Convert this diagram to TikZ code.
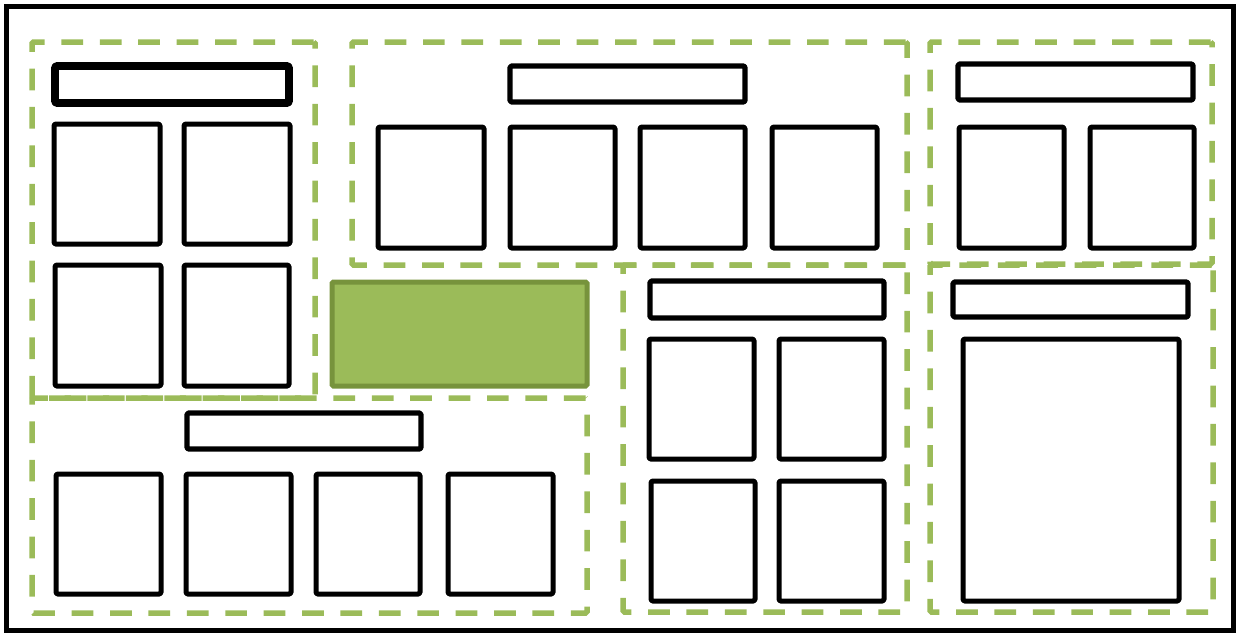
\documentclass[tikz,border=0pt]{standalone}
\usetikzlibrary{fit}
\definecolor{lgreen}{HTML}{9BBB59}
\definecolor{dgreen}{HTML}{77933C}
\tikzset{
  rb/.style={inner sep=0pt, outer sep=0pt, rounded corners=1.5pt},
  group/.style={rb, draw=lgreen, line width=5.5pt, dash pattern=on 21.7pt off 16.7pt},
  card/.style={rb, draw=black, line width=5pt, line join=round},
  headbox/.style={rb, draw=black, line width=5.3pt, line join=round},
  headthick/.style={rb, draw=black, line width=7.8pt, line join=round},
  greenbox/.style={rb, draw=dgreen, fill=lgreen, line width=5pt},
  frame/.style={rb, draw=black, line width=5pt, rounded corners=0pt}
}
\newcommand\rbox[6]{\node[#1, fit={(#3,#4) (#5,#6)}] (#2) {};}
\begin{document}
\begin{tikzpicture}[x=1pt,y=-1pt]
\useasboundingbox (0,0) rectangle (1238,633);
\rbox{frame}{frame}{6.5}{6.5}{1233}{630}
% groups
\rbox{group}{g1}{32}{42}{315}{398}
\rbox{group}{g2}{352}{42}{907}{265}
\rbox{group}{g3}{930}{42}{1212}{264}
\rbox{group}{g4}{32}{398}{587}{613}
\rbox{group}{g5}{623}{265}{907}{612}
\rbox{group}{g6}{930}{265}{1213}{612}
% green block
\rbox{greenbox}{gb}{332}{282}{587}{386}
% group 1
\rbox{headthick}{h1}{55}{66}{289}{103}
\rbox{card}{a11}{54}{124}{160}{244}
\rbox{card}{a12}{184}{124}{290}{244}
\rbox{card}{a21}{55}{265}{161}{386}
\rbox{card}{a22}{184}{265}{289}{386}
% group 2
\rbox{headbox}{h2}{510}{66}{745}{102}
\rbox{card}{b1}{378}{127}{484}{248}
\rbox{card}{b2}{510}{127}{615}{248}
\rbox{card}{b3}{640}{127}{745}{248}
\rbox{card}{b4}{772}{127}{877}{248}
% group 3
\rbox{headbox}{h3}{958}{64}{1193}{100}
\rbox{card}{c1}{959}{127}{1064}{248}
\rbox{card}{c2}{1090}{127}{1194}{248}
% group 4
\rbox{headbox}{h4}{187}{413}{421}{449}
\rbox{card}{d1}{56}{474}{161}{594}
\rbox{card}{d2}{186}{474}{291}{594}
\rbox{card}{d3}{316}{474}{420}{594}
\rbox{card}{d4}{448}{474}{553}{594}
% group 5
\rbox{headbox}{h5}{650}{281}{884}{318}
\rbox{card}{e11}{649}{339}{754}{459}
\rbox{card}{e12}{779}{339}{884}{459}
\rbox{card}{e21}{651}{481}{755}{601}
\rbox{card}{e22}{779}{481}{884}{601}
% group 6
\rbox{headbox}{h6}{953}{282}{1188}{317}
\rbox{card}{f1}{963}{339}{1179}{601}
\end{tikzpicture}
\end{document}
